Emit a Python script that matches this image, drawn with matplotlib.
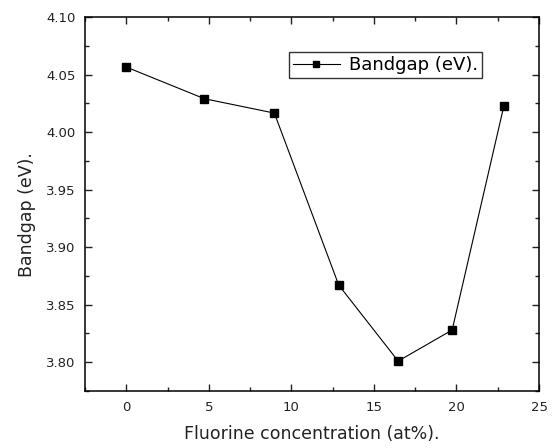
import numpy as np
import matplotlib
matplotlib.use('Agg')
import matplotlib.pyplot as plt
from matplotlib.ticker import MultipleLocator, FormatStrFormatter

# Data
fluorine = [0.0, 4.73, 8.97, 12.87, 16.47, 19.74, 22.87]
bandgap = [4.0565, 4.029, 4.0165, 3.867, 3.801, 3.828, 4.0226]

plt.rcParams['font.family'] = ['DejaVu Sans']

fig = plt.figure(figsize=(5.56, 4.48), dpi=100)
ax = fig.add_axes([85 / 556, 1 - 391 / 448, (539 - 85) / 556, (391 - 17) / 448])

ax.plot(fluorine, bandgap, color='black', linewidth=0.8, marker='s',
        markersize=6, label='Bandgap (eV).')

ax.set_xlim(-2.5, 25)
ax.set_ylim(3.775, 4.10)
ax.xaxis.set_major_locator(MultipleLocator(5))
ax.xaxis.set_minor_locator(MultipleLocator(2.5))
ax.yaxis.set_major_locator(MultipleLocator(0.05))
ax.yaxis.set_minor_locator(MultipleLocator(0.025))
ax.yaxis.set_major_formatter(FormatStrFormatter('%.2f'))

ax.tick_params(which='both', direction='in', top=True, right=True,
               labelsize=9.5, colors='#222222')
ax.tick_params(which='major', length=5, width=1, pad=7)
ax.tick_params(which='minor', length=3, width=1)
for s in ax.spines.values():
    s.set_linewidth(1.1)

ax.set_xlabel('Fluorine concentration (at%).', fontsize=12.5, color='#222222', labelpad=8)
ax.set_ylabel('Bandgap (eV).', fontsize=12.5, color='#222222')
ax.yaxis.set_label_coords(-0.108, 0.471)

leg = ax.legend(loc='upper left', bbox_to_anchor=(0.449, 0.906), borderaxespad=0,
                fontsize=13, frameon=True, fancybox=False, edgecolor='black',
                handlelength=2.6, borderpad=0.22, handletextpad=0.5,
                markerscale=0.75)
leg.get_frame().set_linewidth(1.0)

plt.savefig('out.png', dpi=100)
